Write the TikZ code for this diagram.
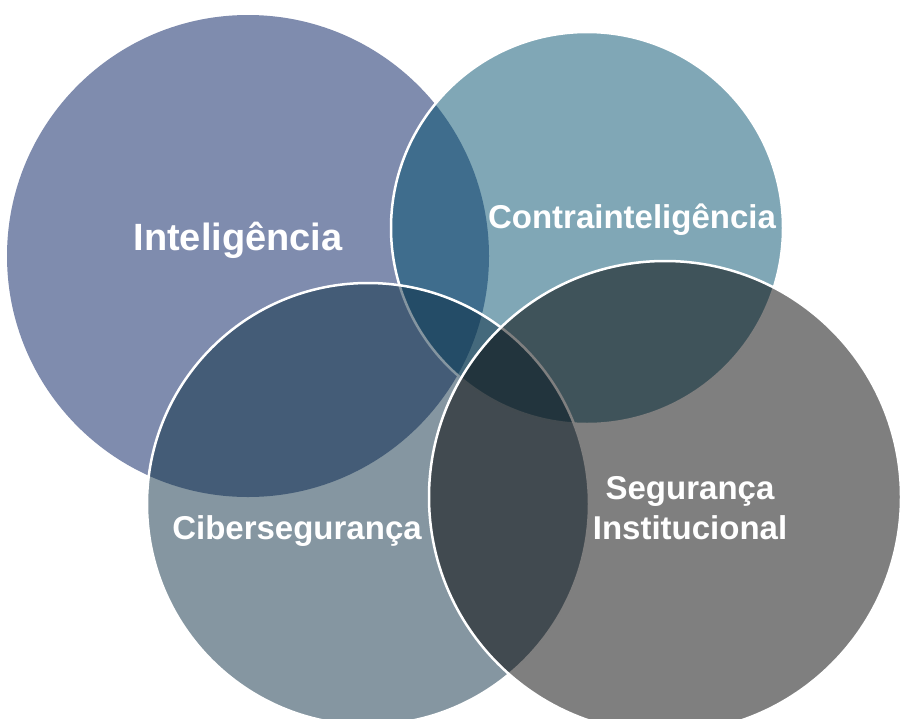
\documentclass[tikz,border=0pt]{standalone}
\usepackage{fontspec}
\setsansfont{Liberation Sans}
\definecolor{intelfill}{HTML}{00195D}
\definecolor{contrafill}{HTML}{014F6D}
\definecolor{cyberfill}{HTML}{0B2D43}
\definecolor{segfill}{HTML}{000000}
\tikzset{
  disc/.style={circle, inner sep=0pt, fill=#1, fill opacity=0.5},
  rim/.style={draw=white, line width=2.5pt},
  tag/.style={text=white, align=center, inner sep=0pt,
    font=\sffamily\bfseries\fontsize{33}{40}\selectfont}
}

\begin{document}
\begin{tikzpicture}[x=1pt, y=-1pt, semithick]
  \useasboundingbox (0,0) rectangle (905,718);
  \clip (0,0) rectangle (905,718);
  \node[disc=intelfill, minimum size=482pt] (intel) at (248,256) {};
  \node[disc=contrafill, rim, minimum size=392pt] (contra) at (587,228) {};
  \node[disc=cyberfill, rim, minimum size=442pt] (cyber) at (368,504) {};
  \node[disc=segfill, rim, minimum size=472pt] (seg) at (665,497) {};
  \node[tag, anchor=base, font=\sffamily\bfseries\fontsize{38}{44}\selectfont] (intelname) at (238,250) {Inteligência};
  \node[tag, anchor=base] (contraname) at (632,228) {Contrainteligência};
  \node[tag, anchor=base] (cybername) at (297,539) {Cibersegurança};
  \node[tag] (segname) at (690,508) {Segurança\\Institucional};
\end{tikzpicture}
\end{document}
